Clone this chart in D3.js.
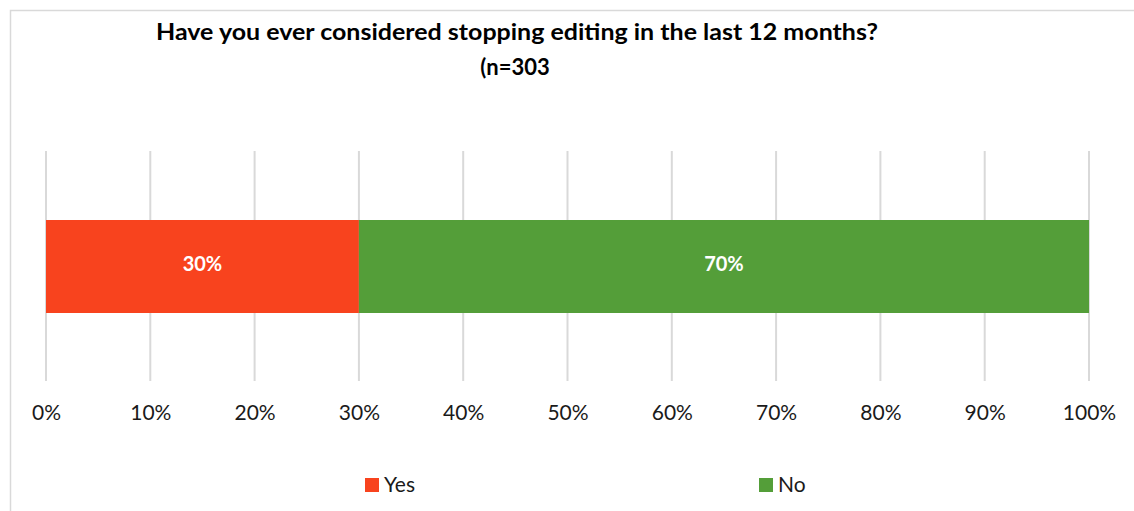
<!DOCTYPE html>
<html><head><meta charset="utf-8">
<script src="https://cdn.jsdelivr.net/npm/d3@7"></script>
<style>body{margin:0;background:#fff;} svg{display:block;font-family:Lato,"Open Sans",sans-serif;}</style>
</head><body>
<svg id="c" width="1134" height="511"></svg>
<script>
const titleLines = ["Have you ever considered stopping editing in the last 12 months?", "(n=303"];
const categories = ["Yes", "No"];
const values = [30, 70];
const colors = ["#F8431E", "#549E39"];
const tickValues = [0,10,20,30,40,50,60,70,80,90,100];

const svg = d3.select("#c");
// frame
svg.append("path").attr("d","M10.5,511 V10.5 H1134").attr("fill","none").attr("stroke","#d9d9d9").attr("stroke-width",1.5);

const x = d3.scaleLinear().domain([0,100]).range([46,1089]);

// gridlines
svg.append("g").selectAll("line").data(tickValues).join("line")
  .attr("x1",d=>x(d)).attr("x2",d=>x(d)).attr("y1",151).attr("y2",381)
  .attr("stroke","#d9d9d9").attr("stroke-width",2);

// stacked bars
let cum = 0;
const stacked = values.map((v,i)=>{const s={cat:categories[i],v,x0:cum,x1:cum+v,color:colors[i]}; cum+=v; return s;});
svg.append("g").selectAll("rect").data(stacked).join("rect")
  .attr("x",d=>x(d.x0)).attr("width",d=>x(d.x1)-x(d.x0))
  .attr("y",220).attr("height",93)
  .attr("fill",d=>d.color);
svg.append("g").selectAll("text").data(stacked).join("text")
  .attr("x",d=>(x(d.x0)+x(d.x1))/2).attr("y",271)
  .attr("text-anchor","middle").attr("fill","#fff").attr("font-weight","bold").attr("font-size",20)
  .text(d=>d.v+"%");

// axis
const axis = d3.axisBottom(x).tickValues(tickValues).tickFormat(d=>d+"%").tickSize(0).tickPadding(0);
const ag = svg.append("g").attr("transform","translate(0,0)").call(axis);
ag.select(".domain").remove();
ag.selectAll("text").attr("y",420).attr("dy",null).attr("font-size",21).attr("fill","#1a1a1a").attr("font-family","Lato,'Open Sans',sans-serif");

// title
svg.append("text").attr("x",517).attr("y",40).attr("text-anchor","middle").attr("font-weight","bold")
  .attr("font-size",22).attr("fill","#000").attr("textLength",722).attr("lengthAdjust","spacingAndGlyphs").text(titleLines[0]);
svg.append("text").attr("x",515).attr("y",75).attr("text-anchor","middle").attr("font-weight","bold")
  .attr("font-size",22).attr("fill","#000").text(titleLines[1]);

// legend
const legX = [365, 759];
const lg = svg.append("g").selectAll("g").data(categories).join("g")
  .attr("transform",(d,i)=>`translate(${legX[i]},478)`);
lg.append("rect").attr("width",14).attr("height",14).attr("fill",(d,i)=>colors[i]);
lg.append("text").attr("x",19).attr("y",14).attr("font-size",21).attr("fill","#1a1a1a").text(d=>d);
</script>
</body></html>
